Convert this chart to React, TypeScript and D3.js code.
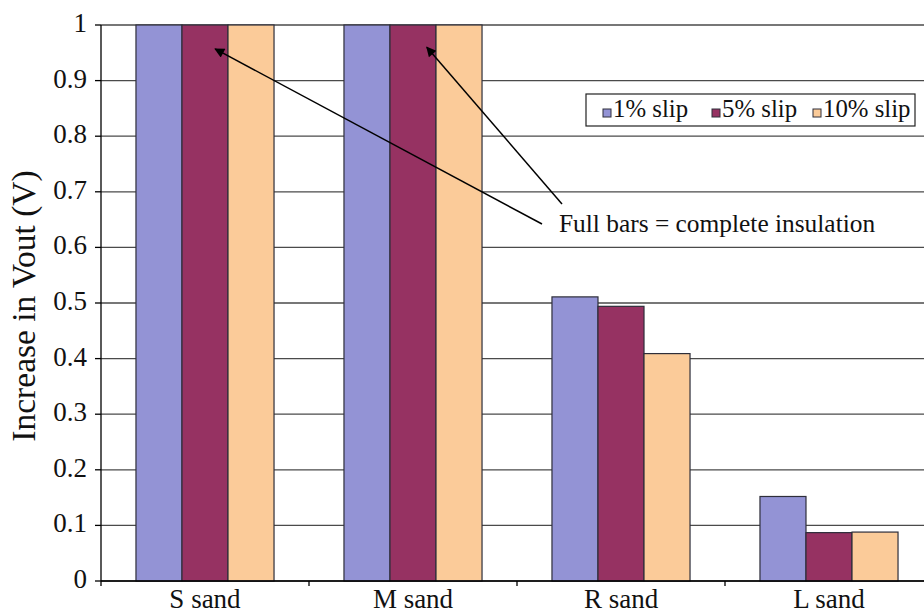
import React from "react";
import * as d3 from "d3";

const categories = ["S sand", "M sand", "R sand", "L sand"];
const seriesNames = ["1% slip", "5% slip", "10% slip"];
const slip1 = [1, 1, 0.511, 0.152];
const slip5 = [1, 1, 0.494, 0.087];
const slip10 = [1, 1, 0.409, 0.088];
const yTicks = [0, 0.1, 0.2, 0.3, 0.4, 0.5, 0.6, 0.7, 0.8, 0.9, 1];
const colors = ["#9393d5", "#963262", "#fbcb99"];
const annotation = "Full bars = complete insulation";

export default function App() {
  const W = 924, H = 614;
  const left = 101, right = 933, top = 25, bottom = 581;
  const x = d3.scaleBand<string>().domain(categories).range([left, right]).paddingInner(0).paddingOuter(0);
  const inner = d3.scaleBand<string>().domain(seriesNames).range([0, x.bandwidth()]).paddingInner(0).paddingOuter(0.76);
  const y = d3.scaleLinear().domain([0, 1]).range([bottom, top]);
  const series = [slip1, slip5, slip10];
  const ts = { fontFamily: "'Liberation Serif', 'Times New Roman', serif" } as React.CSSProperties;

  const arrowTargets = [
    { from: [542, 224], to: [x("S sand")! + inner("5% slip")! + inner.bandwidth() * 0.72, y(0.957)] },
    { from: [562, 204], to: [x("M sand")! + inner("5% slip")! + inner.bandwidth() * 0.8, y(0.96)] },
  ];

  return (
    <div style={{ position: "absolute", left: 0, top: 0 }}>
      <svg width={W} height={H} style={{ display: "block", background: "#fff" }}>
        <defs>
          <marker id="ah" viewBox="0 0 10 10" refX="9" refY="5" markerWidth="14" markerHeight="10" markerUnits="userSpaceOnUse" orient="auto">
            <path d="M0,0 L10,5 L0,10 z" fill="#000" />
          </marker>
        </defs>
        {yTicks.map((t) => (
          <line key={"g" + t} x1={left} x2={W} y1={y(t)} y2={y(t)} stroke="#4a4a4a" strokeWidth={1.3} />
        ))}
        {categories.map((c, ci) =>
          seriesNames.map((s, si) => (
            <rect
              key={c + s}
              x={x(c)! + inner(s)!}
              y={y(series[si][ci])}
              width={inner.bandwidth()}
              height={bottom - y(series[si][ci])}
              fill={colors[si]}
              stroke="#2e2e3a"
              strokeWidth={1.2}
            />
          ))
        )}
        <line x1={left} x2={left} y1={top} y2={bottom + 5} stroke="#000" strokeWidth={1.3} />
        {yTicks.map((t) => (
          <g key={"t" + t}>
            <line x1={left - 6} x2={left} y1={y(t)} y2={y(t)} stroke="#000" strokeWidth={1.3} />
            <text x={87} y={y(t) + 7} textAnchor="end" style={{ ...ts, fontSize: 27 }} fill="#111">
              {d3.format("")(t)}
            </text>
          </g>
        ))}
        <line x1={left} x2={W} y1={bottom} y2={bottom} stroke="#000" strokeWidth={1.3} />
        {categories.map((c, i) =>
          i > 0 ? <line key={"xt" + c} x1={x(c)!} x2={x(c)!} y1={bottom} y2={bottom + 5} stroke="#000" strokeWidth={1.3} /> : null
        )}
        {categories.map((c) => (
          <text key={"xl" + c} x={x(c)! + x.bandwidth() / 2} y={608} textAnchor="middle" style={{ ...ts, fontSize: 27 }} fill="#111">
            {c}
          </text>
        ))}
        <text transform={`translate(35,${306}) rotate(-90)`} textAnchor="middle" style={{ ...ts, fontSize: 33.5 }} fill="#111">
          Increase in Vout (V)
        </text>
        <rect x={586} y={94} width={329} height={32} fill="#fff" stroke="#222" strokeWidth={1.2} />
        {seriesNames.map((s, i) => {
          const lx = [603, 712, 813][i];
          return (
            <g key={"lg" + s}>
              <rect x={lx} y={109} width={8} height={8} fill={colors[i]} stroke="#2e2e3a" strokeWidth={1} />
              <text x={lx + 10} y={117} style={{ ...ts, fontSize: 24.8 }} fill="#111">
                {s}
              </text>
            </g>
          );
        })}
        {arrowTargets.map((a, i) => (
          <line key={"ar" + i} x1={a.from[0]} y1={a.from[1]} x2={a.to[0]} y2={a.to[1]} stroke="#000" strokeWidth={1.5} markerEnd="url(#ah)" />
        ))}
        <text x={559} y={232} style={{ ...ts, fontSize: 25.4 }} fill="#111">
          {annotation}
        </text>
      </svg>
    </div>
  );
}
